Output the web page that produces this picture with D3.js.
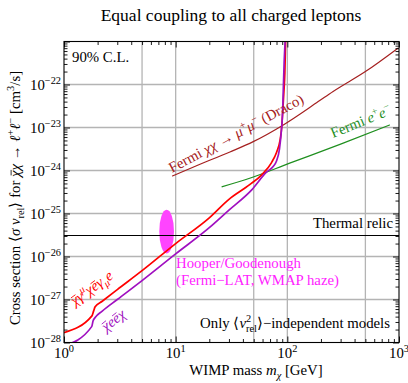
<!DOCTYPE html>
<html><head><meta charset="utf-8">
<script src="https://cdn.jsdelivr.net/npm/d3@7"></script>
<style>
html,body{margin:0;padding:0;background:#fff;}
svg text{font-family:"Liberation Serif","Times New Roman",serif;}
</style></head>
<body><svg id="c" width="408" height="383"></svg>
<script>
// ---- data ----
const xTickDecades = [1, 10, 100, 1000];
const xTickExp = ["0", "1", "2", "3"];
const yTickDecades = [1e-28, 1e-27, 1e-26, 1e-25, 1e-24, 1e-23, 1e-22];
const yTickExp = ["−28", "−27", "−26", "−25", "−24", "−23", "−22"];
const xGrid = [5, 10, 50, 100, 500];
const yGrid = [1e-27, 1e-26, 1e-25, 1e-24, 1e-23, 1e-22];

const vectorMass  = [1, 1.78, 1.84, 1.9, 2.2, 3, 5, 10, 20, 30, 46, 59, 72, 80, 86, 89, 91, 93, 95, 96.5];
const vectorSigma = [1.70e-28, 4.17e-28, 5.37e-28, 6.76e-28, 9.12e-28, 1.70e-27, 4.68e-27, 2.0e-26, 7.94e-26, 2.14e-25, 4.68e-25, 7.94e-25, 1.51e-24, 2.63e-24, 5.01e-24, 1.0e-23, 2.4e-23, 6.3e-23, 1.86e-22, 1e-21];

const scalarMass  = [1, 1.77, 1.82, 1.9, 2.2, 3, 5, 10, 20, 30, 48, 65, 75, 80, 85, 88.6, 90.5, 91.6, 93.6, 95.5];
const scalarSigma = [8.3e-29, 2.34e-28, 3.16e-28, 3.8e-28, 5.37e-28, 1e-27, 2.75e-27, 1.15e-26, 4.68e-26, 1.2e-25, 3.55e-25, 9.12e-25, 1.26e-24, 1.66e-24, 3.16e-24, 8.9e-24, 2.0e-23, 5.25e-23, 3.16e-22, 1e-21];

const dracoMass  = [9.3, 15, 30.6, 49.5, 92, 189, 257, 500, 985];
const dracoSigma = [7.4e-25, 1.26e-24, 2.7e-24, 4.7e-24, 1.15e-23, 4.0e-23, 6.9e-23, 2.0e-22, 7.1e-22];

const fermiEEMass  = [25.8, 46, 105, 300, 828];
const fermiEESigma = [4.17e-25, 6.6e-25, 1.48e-24, 4.1e-24, 1.15e-23];

const thermalRelic = 3e-26;
const hooperMass = 8.3, hooperSigma = 3.8e-26, hooperLogMassHalf = 0.066, hooperLogSigmaHalf = 0.51;

// ---- setup ----
const svg = d3.select("#c");
const FONT = 14.8;
const L = 64, R = 399, T = 41.5, B = 342.5;
const x = d3.scaleLog().domain([1, 1000]).range([L, R]);
const y = d3.scaleLog().domain([1e-28, 1e-21]).range([B, T]);

// rich text: segments with sup/sub/italic/overline; overlines drawn as real lines
function rich(parent, attrs, segs, size, color) {
  const g = parent.append("g");
  if (attrs.transform) g.attr("transform", attrs.transform);
  const t = g.append("text").attr("x", attrs.x || 0).attr("y", attrs.y || 0)
    .attr("font-size", size).attr("fill", color || "#000");
  if (attrs.anchor) t.attr("text-anchor", attrs.anchor);
  let cur = 0, idx = 0;
  const ovs = [];
  segs.forEach(s => {
    const shift = s.sup ? -0.4 * size : s.sub ? 0.25 * size : 0;
    const ts = t.append("tspan").text(s.t).attr("dy", shift - cur);
    if (s.dx) ts.attr("dx", s.dx);
    cur = shift;
    if (s.sup || s.sub) ts.attr("font-size", size * 0.7);
    if (s.it) ts.attr("font-style", "italic");
    if (s.ov) ovs.push([idx, idx + s.t.length - 1, shift]);
    idx += s.t.length;
  });
  const n = t.node();
  ovs.forEach(([a, b, sh]) => {
    const p0 = n.getStartPositionOfChar(a), p1 = n.getEndPositionOfChar(b);
    const yy = p0.y - 0.6 * size;
    g.append("line").attr("x1", p0.x + 1.5).attr("x2", p1.x + 0.5).attr("y1", yy).attr("y2", yy)
      .attr("stroke", color || "#000").attr("stroke-width", 0.8);
  });
  return g;
}

svg.append("defs").append("clipPath").attr("id", "clip")
  .append("rect").attr("x", L).attr("y", T).attr("width", R - L).attr("height", B - T);

// grid
const grid = svg.append("g");
grid.selectAll("line.vx").data(xGrid).enter().append("line")
  .attr("x1", d => x(d)).attr("x2", d => x(d)).attr("y1", T).attr("y2", B)
  .attr("stroke", "#b4b4b4").attr("stroke-width", 1.3);
grid.selectAll("line.hy").data(yGrid).enter().append("line")
  .attr("y1", d => y(d)).attr("y2", d => y(d)).attr("x1", L).attr("x2", R)
  .attr("stroke", "#b4b4b4").attr("stroke-width", 1.3);

const plot = svg.append("g").attr("clip-path", "url(#clip)");

// Hooper ellipse
const ecx = x(hooperMass), ecy = y(hooperSigma);
plot.append("ellipse").attr("cx", ecx).attr("cy", ecy)
  .attr("rx", x(hooperMass * Math.pow(10, hooperLogMassHalf)) - ecx)
  .attr("ry", ecy - y(hooperSigma * Math.pow(10, hooperLogSigmaHalf)))
  .attr("fill", "#ff44ff");

// thermal relic
plot.append("line").attr("x1", L).attr("x2", R).attr("y1", y(thermalRelic)).attr("y2", y(thermalRelic))
  .attr("stroke", "#000").attr("stroke-width", 1).attr("shape-rendering", "crispEdges");

const line = d3.line().x(d => x(d[0])).y(d => y(d[1])).curve(d3.curveMonotoneX);
function curve(ms, ss, color, w) {
  plot.append("path").datum(ms.map((m, i) => [m, ss[i]])).attr("d", line)
    .attr("fill", "none").attr("stroke", color).attr("stroke-width", w);
}
curve(dracoMass, dracoSigma, "#a52020", 1.2);
curve(fermiEEMass, fermiEESigma, "#1f8f1f", 1.2);
curve(vectorMass, vectorSigma, "#ff0000", 1.7);
curve(scalarMass, scalarSigma, "#a010c0", 1.7);

// axes (ticks inward on all sides)
function minorVals(lo, hi) {
  const v = [];
  for (let d = lo; d < hi; d++) for (let k = 2; k <= 9; k++) v.push(k * Math.pow(10, d));
  return v;
}
const xMinor = minorVals(0, 3), yMinor = minorVals(-28, -21);
const yMajorAll = yTickDecades.concat([1e-21]);
function ax(gen, tr, vals, size) {
  const g = svg.append("g").attr("transform", tr)
    .call(gen.tickValues(vals).tickSizeInner(size).tickSizeOuter(0).tickFormat(""));
  g.select(".domain").remove();
  g.selectAll(".tick line").attr("stroke", "#000").attr("stroke-width", 0.9);
  return g;
}
ax(d3.axisBottom(x), `translate(0,${B})`, xTickDecades, -6);
ax(d3.axisBottom(x), `translate(0,${B})`, xMinor, -3.5);
ax(d3.axisTop(x), `translate(0,${T})`, xTickDecades, -6);
ax(d3.axisTop(x), `translate(0,${T})`, xMinor, -3.5);
ax(d3.axisLeft(y), `translate(${L},0)`, yMajorAll, -6);
ax(d3.axisLeft(y), `translate(${L},0)`, yMinor, -3.5);
ax(d3.axisRight(y), `translate(${R},0)`, yMajorAll, -6);
ax(d3.axisRight(y), `translate(${R},0)`, yMinor, -3.5);

svg.append("rect").attr("x", L).attr("y", T).attr("width", R - L).attr("height", B - T)
  .attr("fill", "none").attr("stroke", "#000").attr("stroke-width", 1.1);

// tick labels
xTickDecades.forEach((d, i) => {
  rich(svg, {x: x(d), y: 358, anchor: "middle"}, [{t: "10"}, {t: xTickExp[i], sup: true}], FONT);
});
yTickDecades.forEach((d, i) => {
  rich(svg, {x: 61, y: y(d) + 5, anchor: "end"}, [{t: "10"}, {t: yTickExp[i], sup: true}], FONT);
});

// title & axis labels
svg.append("text").attr("x", 231).attr("y", 21).attr("text-anchor", "middle")
  .attr("font-size", 17.5).text("Equal coupling to all charged leptons");

rich(svg, {x: 256, y: 375, anchor: "middle"},
  [{t: "WIMP mass "}, {t: "m", it: true}, {t: "χ", it: true, sub: true}, {t: " [GeV]"}], FONT);

rich(svg, {transform: "translate(20,198) rotate(-90)", anchor: "middle"},
  [{t: "Cross section ⟨"}, {t: "σ v", it: true}, {t: "rel", sub: true}, {t: "⟩ for "},
   {t: "χ", it: true, ov: true}, {t: "χ", it: true}, {t: " → "}, {t: "ℓ", it: true}, {t: "+", sup: true},
   {t: "ℓ", it: true}, {t: "−", sup: true}, {t: " [cm"}, {t: "3", sup: true}, {t: "/s]"}], FONT);

// annotations
svg.append("text").attr("x", 72).attr("y", 62).attr("font-size", FONT).text("90% C.L.");
svg.append("text").attr("x", 393).attr("y", 228).attr("text-anchor", "end").attr("font-size", FONT).text("Thermal relic");
svg.append("text").attr("x", 176).attr("y", 268).attr("font-size", FONT).attr("fill", "#ff22ff").text("Hooper/Goodenough");
svg.append("text").attr("x", 176).attr("y", 285).attr("font-size", FONT).attr("fill", "#ff22ff").text("(Fermi−LAT, WMAP haze)");
rich(svg, {x: 390, y: 328, anchor: "end"},
  [{t: "Only ⟨"}, {t: "v", it: true}, {t: "2", sup: true}, {t: "rel", sub: true, dx: -5.2}, {t: "⟩−independent models"}], FONT);

rich(svg, {transform: "translate(172,173) rotate(-28)"},
  [{t: "Fermi "}, {t: "χχ", it: true}, {t: " → "}, {t: "μ", it: true}, {t: "+", sup: true}, {t: "μ", it: true}, {t: "−", sup: true}, {t: " (Draco)"}], FONT, "#a52020");

rich(svg, {transform: "translate(333,138) rotate(-22)"},
  [{t: "Fermi "}, {t: "e", it: true}, {t: "+", sup: true}, {t: "e", it: true}, {t: "−", sup: true}], FONT, "#1f8f1f");

rich(svg, {transform: "translate(75,306) rotate(-36)"},
  [{t: "χ", it: true, ov: true}, {t: "γ", it: true}, {t: "μ", it: true, sup: true}, {t: "χ", it: true},
   {t: "e", it: true, ov: true}, {t: "γ", it: true}, {t: "μ", it: true, sub: true}, {t: "e", it: true}], FONT, "#ff0000");

rich(svg, {transform: "translate(106,332) rotate(-38)"},
  [{t: "χ", it: true, ov: true}, {t: "e", it: true}, {t: "e", it: true, ov: true}, {t: "χ", it: true}], FONT, "#a010c0");
</script></body></html>
